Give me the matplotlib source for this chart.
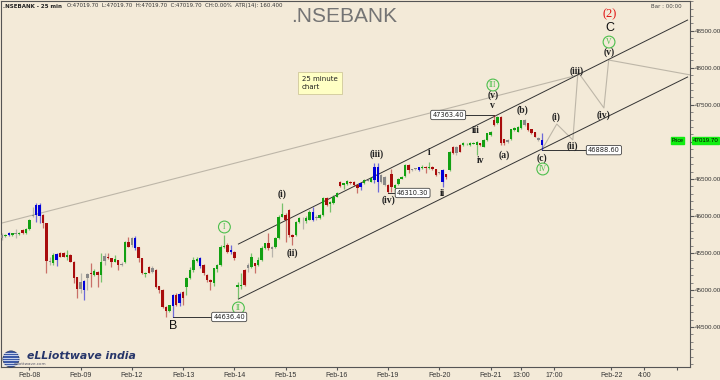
import numpy as np
import matplotlib
matplotlib.use('Agg')
import matplotlib.pyplot as plt
from matplotlib.patches import Circle

# ---- 25 minute candles (bar index 0 = last bars of Feb-07) ----
opens = [45700, 45730, 45740, 45742, 45760, 45755, 45810, 45770, 45825, 46000,
         46010, 46145, 46010, 45900, 45395, 45360, 45405, 45495, 45505, 45450,
         45472, 45383, 45171, 45020, 45120, 45160, 45235, 45203, 45250, 45205,
         45395, 45450, 45428, 45383, 45405, 45340, 45383, 45653, 45610, 45700,
         45575, 45428, 45210, 45315, 45245, 45270, 45055, 45000, 44775, 44720,
         44780, 44930, 44820, 44975, 45045, 45160, 45270, 45395, 45430, 45340,
         45205, 45140, 45090, 45290, 45340, 45585, 45605, 45510, 45518, 45045,
         45055, 45270, 45300, 45315, 45360, 45340, 45405, 45563, 45630, 45560,
         45585, 45700, 45990, 46010, 46080, 45745, 45740, 45925, 45960, 45930,
         45945, 46060, 45970, 45970, 46013, 46240, 46160, 46170, 46260, 46460,
         46418, 46432, 46455, 46463, 46418, 46395, 46440, 46478, 46463, 46485,
         46665, 46463, 46530, 46418, 46566, 46373, 46432, 46503, 46540, 46688,
         46620, 46632, 46620, 46643, 46665, 46643, 46665, 46630, 46575, 46620,
         46560, 46620, 46935, 46850, 46958, 46958, 46968, 46960, 46978, 46958,
         46980, 46935, 47025, 47093, 47295, 47250, 47340, 47035, 46995, 47035,
         47160, 47140, 47183, 47295, 47250, 47170, 47130, 47050, 46960]
highs = [45770, 45760, 45780, 45770, 45820, 45790, 45820, 45840, 45960, 46125,
         46170, 46180, 46025, 45910, 45450, 45495, 45505, 45510, 45515, 45540,
         45480, 45390, 45180, 45225, 45140, 45225, 45360, 45280, 45260, 45505,
         45495, 45495, 45430, 45470, 45410, 45380, 45665, 45720, 45720, 45730,
         45580, 45435, 45245, 45320, 45320, 45285, 45060, 45010, 44780, 44800,
         44940, 44960, 44980, 44985, 45175, 45315, 45440, 45450, 45445, 45345,
         45215, 45150, 45300, 45350, 45610, 45740, 45630, 45610, 45530, 45110,
         45225, 45290, 45360, 45500, 45370, 45450, 45600, 45640, 45765, 45600,
         45720, 46010, 46170, 46040, 46090, 45760, 45930, 45990, 45990, 46000,
         46080, 46115, 46010, 46030, 46250, 46260, 46200, 46280, 46320, 46475,
         46450, 46490, 46470, 46475, 46425, 46450, 46500, 46500, 46520, 46710,
         46710, 46560, 46545, 46430, 46630, 46430, 46510, 46535, 46700, 46700,
         46640, 46645, 46665, 46688, 46670, 46733, 46680, 46640, 46600, 46630,
         46570, 46880, 46950, 46950, 46970, 46995, 46985, 46995, 46995, 47010,
         46990, 47035, 47125, 47150, 47363, 47350, 47350, 47045, 47045, 47180,
         47195, 47215, 47300, 47310, 47260, 47180, 47140, 47060, 47115]
lows = [45680, 45715, 45730, 45735, 45700, 45745, 45760, 45760, 45815, 45990,
        45925, 45900, 45835, 45234, 45340, 45340, 45325, 45440, 45440, 45405,
        45375, 45090, 44888, 44955, 44865, 45000, 45045, 45190, 45045, 45110,
        45340, 45420, 45315, 45375, 45270, 45330, 45370, 45575, 45585, 45540,
        45380, 45215, 45180, 45225, 45230, 45030, 44955, 44760, 44640, 44710,
        44636, 44780, 44780, 44800, 44930, 45150, 45250, 45380, 45300, 45200,
        45110, 45000, 45050, 45250, 45330, 45570, 45505, 45490, 45400, 44890,
        45020, 45060, 45250, 45300, 45225, 45330, 45395, 45550, 45540, 45450,
        45570, 45690, 45980, 45650, 45720, 45610, 45730, 45900, 45830, 45910,
        45940, 45930, 45950, 45960, 46000, 46140, 46060, 46160, 46250, 46390,
        46370, 46420, 46430, 46410, 46305, 46350, 46430, 46470, 46455, 46450,
        46328, 46440, 46400, 46310, 46330, 46330, 46420, 46495, 46530, 46575,
        46610, 46620, 46610, 46635, 46575, 46635, 46620, 46545, 46560, 46395,
        46500, 46610, 46830, 46820, 46860, 46950, 46960, 46950, 46970, 46823,
        46950, 46925, 47010, 47080, 47220, 47240, 46960, 46960, 46985, 47025,
        47150, 47130, 47170, 47220, 47150, 47100, 47060, 47010, 46889]
closes = [45740, 45745, 45770, 45765, 45755, 45775, 45770, 45830, 45945, 46015,
          46145, 46000, 45900, 45396, 45385, 45470, 45485, 45450, 45450, 45472,
          45383, 45158, 45014, 45110, 45000, 45210, 45215, 45260, 45205, 45380,
          45460, 45428, 45383, 45415, 45340, 45355, 45653, 45585, 45700, 45565,
          45428, 45225, 45235, 45235, 45300, 45045, 45000, 44775, 44720, 44795,
          44930, 44800, 44950, 44890, 45160, 45270, 45400, 45425, 45330, 45225,
          45140, 45105, 45295, 45340, 45585, 45600, 45520, 45540, 45430, 45065,
          45070, 45070, 45340, 45450, 45325, 45405, 45563, 45630, 45563, 45575,
          45700, 45990, 46030, 45945, 45745, 45720, 45925, 45970, 45955, 45975,
          46060, 45950, 45990, 46010, 46238, 46150, 46190, 46260, 46305, 46400,
          46440, 46472, 46440, 46418, 46373, 46440, 46485, 46485, 46508, 46665,
          46463, 46553, 46418, 46328, 46395, 46418, 46494, 46521, 46688, 46620,
          46630, 46633, 46655, 46665, 46643, 46665, 46630, 46553, 46590, 46463,
          46530, 46868, 46845, 46930, 46868, 46980, 46975, 46980, 46985, 47003,
          46960, 47025, 47115, 47138, 47228, 47340, 46980, 46980, 47030, 47170,
          47183, 47205, 47295, 47230, 47160, 47115, 47070, 47020, 47019.7]
blue_bars = [2, 10, 11, 16, 24, 39, 50, 52, 58, 67, 91, 105, 109, 110, 122, 129, 158]
gray_bars = [0, 4, 9, 14, 23, 25, 30, 35, 38, 44, 72, 79, 88, 92, 107, 111, 112,
             120, 121, 128, 133, 148, 153, 157]

# x axis labels (bar positions; after bar 158 the axis runs on clock time)
xtick_pos = [8, 23, 38, 53, 68, 83, 98, 113, 128, 143, 152, 161.6, 178.4, 188, 197.6]
xtick_lab = ['Feb-08', 'Feb-09', 'Feb-12', 'Feb-13', 'Feb-14', 'Feb-15', 'Feb-16',
             'Feb-19', 'Feb-20', 'Feb-21', '13:00', '17:00', 'Feb-22', '4:00', '']

# wave analysis lines
chan_x = [69.2, 200.7]
chan_up = [45621, 48645]
chan_lo = [44879, 47876]
trend_x = [0, 168.6]
trend_y = [45905, 47903]
proj_x = [158, 162.4, 167.1, 168.6, 176.2, 177.6, 201.6]
proj_y = [46890, 47241, 47026, 47944, 47458, 48105, 47903]

# wave labels: text, bar, price, kind
labels = [('(2)', 178, 48726, 'red'), ('C', 178, 48537, 'big'),
          ('V', 177.7, 48348, 'circ'), ('(v)', 177.7, 48213, 'w'),
          ('(iii)', 168.3, 47957, 'w'), ('(iv)', 176.2, 47363, 'w'),
          ('(i)', 162.1, 47336, 'w'), ('(ii)', 167.1, 46945, 'w'),
          ('III', 143.7, 47768, 'circ'), ('(v)', 143.7, 47633, 'w'),
          ('v', 143.7, 47485, 'w'), ('iii', 138.7, 47160, 'w'),
          ('iv', 140.2, 46742, 'w'), ('(a)', 146.9, 46823, 'w'),
          ('(b)', 152.5, 47431, 'w'), ('(c)', 158, 46782, 'w'),
          ('IV', 158.3, 46634, 'circ'), ('i', 125, 46850, 'w'),
          ('ii', 128.8, 46297, 'w'), ('(iii)', 109.8, 46837, 'w'),
          ('(iv)', 113, 46216, 'w'), ('(i)', 82, 46297, 'w'),
          ('(ii)', 85, 45500, 'w'), ('I', 65.1, 45851, 'circ'),
          ('II', 69.2, 44758, 'circ'), ('B', 50.2, 44515, 'big')]

# price markers: value, bar of the extreme, bar of the box centre
marks = [(44636.40, 50, 66.5), (46310.30, 113, 120.2), (47363.40, 144, 130.6),
         (46888.60, 158, 176.2)]
last_price = 47019.70

BG = '#f3ead8'
GREEN = '#12a012'
RED = '#a80c0c'
BLUE = '#0000d8'
GRAY = '#888888'
CIRC = '#4cbf4c'
SANS = 'Liberation Sans'

fig = plt.figure(figsize=(7.2, 3.8), dpi=100)
fig.patch.set_facecolor(BG)
ax = fig.add_axes([1 / 720, 13 / 380, 689 / 720, 366 / 380])
ax.set_facecolor(BG)

x = np.arange(len(opens))
colors = []
for i in x:
    if i in blue_bars:
        colors.append(BLUE)
    elif i in gray_bars:
        colors.append(GRAY)
    elif closes[i] >= opens[i]:
        colors.append(GREEN)
    else:
        colors.append(RED)
o = np.array(opens)
c = np.array(closes)
ax.vlines(x, lows, highs, colors=colors, linewidth=0.9, alpha=0.55, zorder=3)
body_lo = np.minimum(o, c)
body_h = np.maximum(np.abs(c - o), 9)
ax.bar(x, body_h, bottom=body_lo, width=0.72, color=colors, linewidth=0, zorder=4)

# channel and projection lines
ax.plot(chan_x, chan_up, color='#333333', lw=0.7, zorder=2)
ax.plot(chan_x, chan_lo, color='#333333', lw=0.7, zorder=2)
ax.plot(trend_x, trend_y, color='#bdb6a8', lw=0.8, zorder=1)
ax.plot(proj_x, proj_y, color='#bdb6a8', lw=0.8, zorder=1)

serif = ['Liberation Serif', 'DejaVu Serif']
for txt, bx, py, kind in labels:
    if kind == 'red':
        ax.text(bx, py, txt, color='#e01010', fontsize=9, family=serif,
                ha='center', va='center', zorder=6)
    elif kind == 'big':
        ax.text(bx, py, txt, color='#111111', fontsize=9, family=SANS,
                ha='center', va='center', zorder=6)
    elif kind == 'circ':
        ax.text(bx, py, txt, color=CIRC, fontsize=5.5, family=serif,
                ha='center', va='center', zorder=6,
                bbox=dict(boxstyle='circle,pad=0.25', fc='none', ec=CIRC, lw=0.8))
    else:
        ax.text(bx, py, txt, color='#222222', fontsize=7, family=serif,
                fontweight='bold', ha='center', va='center', zorder=6)

for val, bar_i, box_i in marks:
    ax.plot([bar_i, box_i], [val, val], color='#333333', lw=0.7, zorder=2)
    ax.text(box_i, val, '%.2f' % val, fontsize=4.8, ha='center', va='center',
            color='#222222', zorder=7,
            bbox=dict(boxstyle='round,pad=0.25', fc='white', ec='#444444', lw=0.6))

ax.set_xlim(-0.3, 201.4)
ax.set_ylim(43961, 48902)

ax.set_xticks(xtick_pos)
ax.set_xticklabels(xtick_lab, fontsize=5, color='#333333', family=SANS)
ax.tick_params(axis='x', length=2, pad=1.5, color='#555555')
ax.yaxis.tick_right()
ax.set_yticks(np.arange(44500, 48501, 500))
ax.set_yticklabels(['%.2f' % v for v in np.arange(44500, 48501, 500)],
                   fontsize=4.5, color='#333333', family=SANS)
ax.set_yticks(np.arange(44000, 48901, 100), minor=True)
ax.tick_params(axis='y', which='major', length=3, pad=0.5, color='#555555')
ax.tick_params(axis='y', which='minor', length=1.8, color='#777777')
for s in ax.spines.values():
    s.set_color('#555555')
    s.set_linewidth(0.8)

# price tag on the right axis
tr = ax.get_yaxis_transform()
ax.text(1.004, last_price, '%.2f' % last_price, transform=tr, fontsize=4.4,
        family=SANS, ha='left', va='center', clip_on=False, zorder=8,
        bbox=dict(boxstyle='square,pad=0.12', fc='#11ee11', ec='#11ee11'))
ax.text(0.991, last_price, 'Price', transform=tr, fontsize=3.8, family=SANS,
        ha='right', va='center', zorder=8,
        bbox=dict(boxstyle='square,pad=0.12', fc='#11ee11', ec='#11ee11'))

# header texts
fig.text(3 / 720, 1 - 6 / 380, '.NSEBANK - 25 min', fontsize=4.0, fontweight='bold',
         va='center', color='#222222')
fig.text(67 / 720, 1 - 6 / 380,
         'O:47019.70  L:47019.70  H:47019.70  C:47019.70  CH:0.00%  ATR(14): 160.400',
         fontsize=3.9, va='center', color='#333333')
fig.text(344 / 720, 1 - 16 / 380, '.NSEBANK', fontsize=15, family=SANS,
         ha='center', va='center', color='#747474')
fig.text(682 / 720, 1 - 6 / 380, 'Bar : 00:00', fontsize=4, ha='right',
         va='center', color='#444444')
fig.text(302 / 720, 1 - 83 / 380, '25 minute\nchart', fontsize=5, ha='left',
         va='center', color='#222222', linespacing=1.3,
         bbox=dict(boxstyle='square,pad=0.6', fc='#ffffc4', ec='#c8c090', lw=0.5))

# logo
lax = fig.add_axes([2 / 720, 1 - 368 / 380, 18 / 720, 18 / 380])
lax.set_xlim(-1, 1)
lax.set_ylim(-1, 1)
lax.set_aspect('equal')
lax.axis('off')
lax.add_patch(Circle((0, 0), 0.9, fc='#3c5aa8', ec='#24345f', lw=0.5))
for yy in np.linspace(-0.7, 0.7, 6):
    lax.plot([-0.85, 0.85], [yy, yy], color='#dfe6f5', lw=0.6)
fig.text(27 / 720, 1 - 356 / 380, 'eLLiottwave india', fontsize=7.8,
         fontstyle='italic', fontweight='bold', color='#27366a', va='center')
fig.text(14 / 720, 1 - 364 / 380, 'elliottwave.com', fontsize=3, color='#556',
         va='center')

fig.savefig('out.png', dpi=100, facecolor=BG)
